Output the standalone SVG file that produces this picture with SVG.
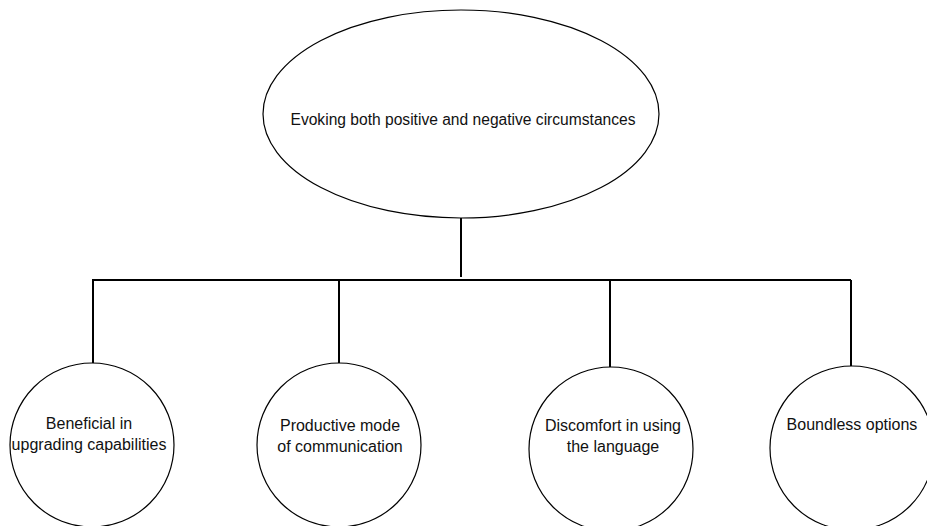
<svg xmlns="http://www.w3.org/2000/svg" width="927" height="526" viewBox="0 0 927 526">
<style>
.shape{fill:#fff;stroke:#000;stroke-width:1.2}
.conn{fill:none;stroke:#000;stroke-width:2}
text{font-family:"Liberation Sans",Arial,sans-serif;font-size:16px;fill:#111;text-anchor:middle}
.big{font-size:15.6px}
</style>
<rect width="927" height="526" fill="#fff"/>
<g id="connectors">
<line class="conn" x1="461" y1="218" x2="461" y2="277"/>
<line class="conn" x1="92" y1="280" x2="851" y2="280"/>
<line class="conn" x1="93" y1="280" x2="93" y2="363"/>
<line class="conn" x1="339" y1="280" x2="339" y2="363"/>
<line class="conn" x1="610" y1="280" x2="610" y2="367"/>
<line class="conn" x1="851" y1="280" x2="851" y2="366"/>
</g>
<g id="root">
<ellipse class="shape" cx="461" cy="114" rx="198" ry="104"/>
<text class="big" x="463" y="125">Evoking both positive and negative circumstances</text>
</g>
<g id="n1">
<circle class="shape" cx="92" cy="445" r="82"/>
<text x="89" y="429">Beneficial in</text>
<text x="89" y="450">upgrading capabilities</text>
</g>
<g id="n2">
<circle class="shape" cx="339" cy="445" r="82"/>
<text x="340" y="431">Productive mode</text>
<text x="340" y="452">of communication</text>
</g>
<g id="n3">
<circle class="shape" cx="611" cy="449" r="82"/>
<text x="613" y="431">Discomfort in using</text>
<text x="613" y="452">the language</text>
</g>
<g id="n4">
<circle class="shape" cx="852" cy="448" r="82"/>
<text x="852" y="430">Boundless options</text>
</g>
</svg>
